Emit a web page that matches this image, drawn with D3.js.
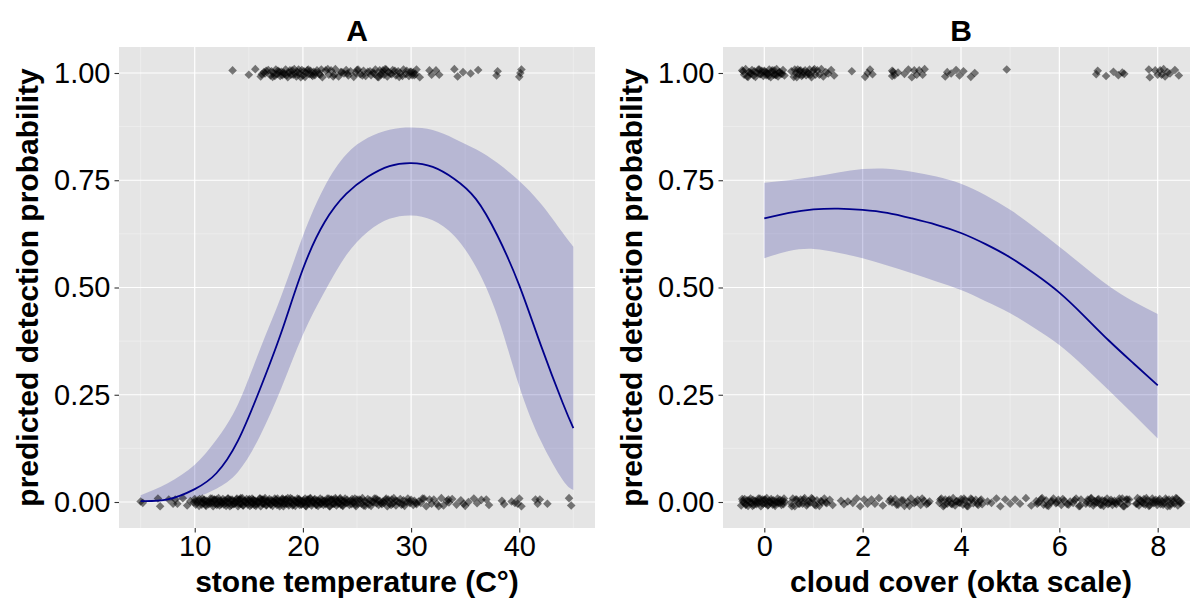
<!DOCTYPE html>
<html><head><meta charset="utf-8">
<script src="https://cdn.jsdelivr.net/npm/d3@7/dist/d3.min.js"></script>
<style>body{margin:0;background:#fff}svg{display:block}</style>
</head><body><svg id="c" width="1190" height="601"></svg>
<script>
// ---------- Panel A: stone temperature ----------
const tempX   = [5, 7.5, 10, 12, 14, 16, 18, 20, 22, 24, 26, 28, 30, 32, 34, 36, 38, 40, 42, 44, 45];
const tempFit = [0.002, 0.006, 0.030, 0.067, 0.143, 0.261, 0.395, 0.543, 0.652, 0.718, 0.758, 0.783, 0.790, 0.781, 0.753, 0.706, 0.620, 0.505, 0.365, 0.232, 0.172];
const tempHi  = [0.016, 0.044, 0.087, 0.145, 0.228, 0.354, 0.480, 0.620, 0.735, 0.810, 0.849, 0.868, 0.873, 0.867, 0.847, 0.822, 0.790, 0.748, 0.695, 0.628, 0.595];
const tempLo  = [0.0005, 0.002, 0.011, 0.031, 0.070, 0.152, 0.265, 0.390, 0.490, 0.575, 0.630, 0.660, 0.668, 0.657, 0.620, 0.548, 0.432, 0.270, 0.142, 0.052, 0.028];
const tempTicks = [10, 20, 30, 40];
const tempMinor = [5, 15, 25, 35, 45];

// observed detections (1) and non-detections (0)
const tempDetected = [13.5, 15.0, 15.6, 16.1, 16.4, 16.5, 16.8, 17.0, 17.1, 17.2, 17.3, 17.5, 17.6, 17.7, 17.9, 18.0, 18.1, 18.2, 18.3, 18.4, 18.6, 18.8, 18.9, 19.0, 19.1, 19.2, 19.4, 19.5, 19.7, 19.9, 20.0, 20.1, 20.2, 20.3, 20.5, 20.6, 20.7, 20.9, 21.0, 21.1, 21.2, 21.5, 21.7, 21.8, 22.1, 22.4, 22.6, 22.9, 23.0, 23.3, 23.5, 23.8, 24.0, 24.2, 24.4, 24.7, 24.9, 25.1, 25.3, 25.6, 25.8, 26.0, 26.3, 26.5, 26.6, 26.7, 27.0, 27.1, 27.2, 27.4, 27.5, 27.6, 27.8, 27.9, 28.1, 28.3, 28.6, 28.8, 28.9, 29.0, 29.3, 29.5, 29.6, 29.8, 30.0, 30.1, 30.2, 30.4, 30.5, 30.8, 31.7, 31.9, 32.3, 32.6, 34.0, 34.3, 34.8, 35.5, 36.2, 37.9, 38.0, 40.0, 40.1, 40.2,
  16.2, 16.6, 17.4, 17.8, 18.5, 18.7, 19.3, 19.6, 19.8, 20.4, 20.8, 21.3, 21.6, 22.3, 22.8, 23.6, 24.1, 25.0, 25.5, 26.2, 26.9, 27.3, 27.7, 28.2, 28.5, 29.2, 29.9, 30.3];
const tempMissed = [5.0, 5.2, 6.6, 6.8, 7.6, 8.0, 8.2, 8.4, 8.9, 9.3, 9.6, 9.9,
  10.0, 10.1, 10.3, 10.4, 10.6, 10.7, 10.8, 10.9,
  11.0, 11.1, 11.3, 11.4, 11.5, 11.6, 11.7, 11.8, 11.9,
  12.0, 12.1, 12.2, 12.3, 12.4, 12.5, 12.6, 12.7, 12.8, 12.9,
  13.0, 13.1, 13.2, 13.3, 13.4, 13.5, 13.6, 13.7, 13.8, 13.9,
  14.0, 14.1, 14.2, 14.2, 14.3, 14.4, 14.5, 14.6, 14.7, 14.8, 14.9,
  15.0, 15.1, 15.2, 15.3, 15.4, 15.4, 15.5, 15.6, 15.7, 15.8, 15.9,
  16.0, 16.1, 16.2, 16.3, 16.3, 16.4, 16.5, 16.6, 16.7, 16.8, 16.9,
  17.0, 17.1, 17.2, 17.3, 17.4, 17.5, 17.5, 17.6, 17.7, 17.8, 17.9,
  18.0, 18.1, 18.2, 18.2, 18.3, 18.4, 18.5, 18.6, 18.7, 18.8, 18.9,
  19.0, 19.1, 19.2, 19.3, 19.4, 19.5, 19.6, 19.6, 19.7, 19.8, 19.9,
  20.0, 20.1, 20.2, 20.3, 20.4, 20.4, 20.5, 20.6, 20.7, 20.8, 20.9,
  21.0, 21.1, 21.2, 21.3, 21.4, 21.5, 21.6, 21.7, 21.8, 21.9,
  22.0, 22.1, 22.2, 22.3, 22.4, 22.5, 22.6, 22.7, 22.8, 22.9,
  23.0, 23.1, 23.2, 23.3, 23.4, 23.5, 23.6, 23.7, 23.8, 23.9,
  24.0, 24.1, 24.3, 24.4, 24.5, 24.6, 24.7, 24.8, 24.9,
  25.0, 25.1, 25.2, 25.4, 25.5, 25.6, 25.7, 25.9,
  26.0, 26.1, 26.2, 26.3, 26.5, 26.6, 26.8, 26.9,
  27.0, 27.1, 27.3, 27.4, 27.5, 27.7, 27.8, 27.9,
  28.0, 28.2, 28.3, 28.4, 28.6, 28.7, 28.9,
  29.0, 29.1, 29.3, 29.4, 29.6, 29.7, 29.9,
  30.0, 30.2, 30.3, 30.5, 30.7, 30.9,
  31.2, 31.4, 31.7, 31.9, 32.1, 32.4, 32.8, 33.0, 33.3, 33.5, 33.8,
  34.2, 34.6, 35.0, 35.3, 35.8, 36.1, 36.5, 37.2, 38.4, 38.6, 39.3, 39.6,
  40.0, 40.2, 41.5, 41.7, 41.9, 42.6, 44.6, 44.8,
  10.05, 10.25, 10.45, 10.65, 10.85, 11.05, 11.25, 11.45, 11.65, 11.85, 12.05, 12.25, 12.45, 12.65, 12.85,
  13.05, 13.25, 13.45, 13.65, 13.85, 14.05, 14.25, 14.45, 14.65, 14.85, 15.05, 15.25, 15.45, 15.65, 15.85,
  16.05, 16.25, 16.45, 16.65, 16.85, 17.05, 17.25, 17.45, 17.65, 17.85, 18.05, 18.25, 18.45, 18.65, 18.85,
  19.05, 19.25, 19.45, 19.65, 19.85, 20.05, 20.25, 20.45, 20.65, 20.85, 21.05, 21.25, 21.45, 21.65, 21.85,
  22.05, 22.25, 22.45, 22.65, 22.85, 23.05, 23.25, 23.45, 23.65, 23.85, 24.15, 24.55, 24.85, 25.35, 25.75,
  26.45, 26.75, 27.25, 27.65, 28.15, 28.55, 29.25, 29.85, 30.45, 31.05, 32.55, 33.45, 34.85, 36.95, 39.85];

// ---------- Panel B: cloud cover ----------
const cloudX   = [0, 0.5, 1, 1.5, 2, 2.5, 3, 3.5, 4, 4.5, 5, 5.5, 6, 6.5, 7, 7.5, 8];
const cloudFit = [0.661, 0.674, 0.682, 0.684, 0.681, 0.674, 0.661, 0.646, 0.627, 0.601, 0.570, 0.532, 0.488, 0.434, 0.377, 0.324, 0.272];
const cloudHi  = [0.744, 0.750, 0.758, 0.768, 0.776, 0.777, 0.770, 0.759, 0.742, 0.715, 0.681, 0.640, 0.595, 0.549, 0.504, 0.468, 0.438];
const cloudLo  = [0.568, 0.585, 0.590, 0.581, 0.568, 0.551, 0.533, 0.514, 0.494, 0.468, 0.440, 0.405, 0.366, 0.316, 0.261, 0.205, 0.148];
const cloudTicks = [0, 2, 4, 6, 8];
const cloudMinor = [1, 3, 5, 7];

const cloudDetected = [-0.45, -0.41, -0.38, -0.35, -0.31, -0.28, -0.25, -0.22, -0.20, -0.18, -0.15, -0.12, -0.09, -0.05, -0.02, 0.01, 0.04, 0.05, 0.07, 0.10, 0.13, 0.16, 0.19, 0.20, 0.22, 0.25, 0.28, 0.31, 0.34, 0.38, 0.41,
  0.55, 0.60, 0.64, 0.68, 0.70, 0.72, 0.76, 0.80, 0.85, 0.88, 0.90, 0.92, 0.96, 1.00, 1.04, 1.08, 1.12, 1.16, 1.20, 1.25, 1.30, 1.36, 1.42,
  1.78, 2.05, 2.10, 2.15, 2.20,
  2.60, 2.60, 2.62, 2.65, 2.72, 2.85, 2.93, 3.00, 3.05, 3.10, 3.15, 3.22, 3.26,
  3.68, 3.72, 3.80, 3.90, 3.97, 4.05, 4.20, 4.28,
  4.93,
  6.75, 6.78, 6.95, 7.10, 7.20, 7.28, 7.32,
  7.82, 7.84, 7.95, 8.00, 8.05, 8.08, 8.12, 8.15, 8.20, 8.25, 8.35, 8.43,
  -0.43, -0.33, -0.27, -0.10, -0.07, 0.00, 0.09, 0.15, 0.24, 0.30, 0.36, 0.62, 0.66, 0.74, 0.78, 0.83, 0.94, 1.02];
const cloudMissed = [-0.47, -0.44, -0.42, -0.40, -0.37, -0.35, -0.33, -0.30, -0.28, -0.26, -0.23, -0.21, -0.19, -0.16, -0.14, -0.11, -0.09, -0.07, -0.04, -0.02, 0.00, 0.03, 0.05, 0.07, 0.10, 0.12, 0.14, 0.17, 0.19, 0.22, 0.24, 0.27, 0.29, 0.32, 0.35, 0.37, 0.39, 0.41,
  0.54, 0.58, 0.62, 0.66, 0.70, 0.74, 0.78, 0.82, 0.86, 0.90, 0.94, 0.98, 1.02, 1.07, 1.12, 1.17, 1.22, 1.27, 1.33, 1.39,
  1.56, 1.62, 1.70, 1.80, 1.88, 1.95, 2.03, 2.10, 2.18, 2.25, 2.33, 2.41,
  2.54, 2.60, 2.66, 2.72, 2.79, 2.85, 2.92, 2.98, 3.05, 3.12, 3.18, 3.25, 3.30, 3.36,
  3.56, 3.60, 3.64, 3.68, 3.72, 3.76, 3.80, 3.84, 3.88, 3.92, 3.96, 4.00, 4.04, 4.08, 4.12, 4.16, 4.20, 4.25, 4.30, 4.35, 4.39, 4.43,
  4.54, 4.62, 4.72, 4.80, 4.90, 5.00, 5.10, 5.20, 5.32, 5.43,
  5.53, 5.58, 5.63, 5.68, 5.73, 5.78, 5.83, 5.88, 5.93, 5.98, 6.04, 6.10, 6.16, 6.22, 6.28, 6.34, 6.40, 6.44,
  6.54, 6.58, 6.62, 6.65, 6.69, 6.72, 6.76, 6.80, 6.83, 6.87, 6.90, 6.94, 6.97, 7.01, 7.05, 7.08, 7.12, 7.16, 7.20, 7.24, 7.28, 7.32, 7.36, 7.39, 7.42,
  7.56, 7.59, 7.62, 7.66, 7.69, 7.72, 7.75, 7.79, 7.82, 7.86, 7.89, 7.92, 7.96, 7.99, 8.02, 8.06, 8.09, 8.13, 8.16, 8.20, 8.23, 8.27, 8.30, 8.34, 8.37, 8.41, 8.44, 8.48,
  -0.45, -0.38, -0.31, -0.24, -0.17, -0.12, -0.05, 0.02, 0.08, 0.15, 0.21, 0.28, 0.33, 0.40,
  0.56, 0.64, 0.72, 0.80, 0.88, 0.96, 1.05, 1.15, 1.25,
  2.57, 2.69, 2.82, 2.95, 3.08, 3.21, 3.33,
  3.58, 3.66, 3.74, 3.82, 3.90, 3.98, 4.06, 4.14, 4.22, 4.33, 4.41,
  5.55, 5.65, 5.75, 5.85, 5.95, 6.07, 6.19, 6.31, 6.42,
  6.56, 6.64, 6.71, 6.78, 6.85, 6.92, 6.99, 7.07, 7.14, 7.22, 7.30, 7.38,
  7.58, 7.64, 7.71, 7.77, 7.84, 7.91, 7.97, 8.04, 8.11, 8.18, 8.25, 8.32, 8.39, 8.46];

const yTicks = [0, 0.25, 0.5, 0.75, 1];
const yMinor = [0.125, 0.375, 0.625, 0.875];
// vertical jitter offsets (display only), cycled over points
const yJitter = [0.006, -0.004, 0.009, -0.008, 0.002, -0.001, 0.007, -0.006, 0.004, -0.009, 0.000, 0.008, -0.003, 0.005, -0.007, 0.003, -0.005, 0.001, -0.002, 0.008, -0.010, 0.006, -0.004];

const panels = [
  {title: "A", xlab: "stone temperature (C\u00B0)", xDomain: [3, 47], range: [119, 595],
   xs: tempX, fit: tempFit, lo: tempLo, hi: tempHi, ticks: tempTicks, minor: tempMinor,
   det: tempDetected, mis: tempMissed, fmt: d3.format("d")},
  {title: "B", xlab: "cloud cover (okta scale)", xDomain: [-0.84, 8.84], range: [723, 1199],
   xs: cloudX, fit: cloudFit, lo: cloudLo, hi: cloudHi, ticks: cloudTicks, minor: cloudMinor,
   det: cloudDetected, mis: cloudMissed, fmt: d3.format("d")}
];

const svg = d3.select("#c");
const pTop = 47, pBottom = 528;
const y = d3.scaleLinear().domain([-0.0606, 1.0606]).range([pBottom, pTop]);
const FONT = "'Liberation Sans', Arial, sans-serif";

panels.forEach((p, pi) => {
  const x = d3.scaleLinear().domain(p.xDomain).range(p.range);
  const g = svg.append("g");
  const clipId = "clip" + pi;
  svg.append("clipPath").attr("id", clipId).append("rect")
    .attr("x", p.range[0]).attr("y", pTop).attr("width", p.range[1] - p.range[0]).attr("height", pBottom - pTop);
  const pg = g.append("g").attr("clip-path", `url(#${clipId})`);
  pg.append("rect").attr("x", p.range[0]).attr("y", pTop)
    .attr("width", p.range[1] - p.range[0]).attr("height", pBottom - pTop).attr("fill", "#e5e5e5");
  // minor grid
  pg.selectAll(".mx").data(p.minor).join("line")
    .attr("x1", d => x(d)).attr("x2", d => x(d)).attr("y1", pTop).attr("y2", pBottom)
    .attr("stroke", "#f2f2f2").attr("stroke-width", 0.6);
  pg.selectAll(".my").data(yMinor).join("line")
    .attr("y1", d => y(d)).attr("y2", d => y(d)).attr("x1", p.range[0]).attr("x2", p.range[1])
    .attr("stroke", "#f2f2f2").attr("stroke-width", 0.6);
  // major grid
  pg.selectAll(".Mx").data(p.ticks).join("line")
    .attr("x1", d => x(d)).attr("x2", d => x(d)).attr("y1", pTop).attr("y2", pBottom)
    .attr("stroke", "#fff").attr("stroke-width", 1.2);
  pg.selectAll(".My").data(yTicks).join("line")
    .attr("y1", d => y(d)).attr("y2", d => y(d)).attr("x1", p.range[0]).attr("x2", p.range[1])
    .attr("stroke", "#fff").attr("stroke-width", 1.2);

  const rows = p.xs.map((v, i) => ({x: v, fit: p.fit[i], lo: p.lo[i], hi: p.hi[i]}));
  pg.append("path").datum(rows)
    .attr("d", d3.area().x(d => x(d.x)).y0(d => y(d.lo)).y1(d => y(d.hi)).curve(d3.curveNatural))
    .attr("fill", "#00008b").attr("fill-opacity", 0.2);

  const pts = p.det.map(v => ({x: v, y: 1})).concat(p.mis.map(v => ({x: v, y: 0})));
  pts.forEach((d, i) => { d.yj = d.y + yJitter[i % yJitter.length]; });
  const r = 4.3;
  pg.selectAll(".pt").data(pts).join("path")
    .attr("d", `M0,${-r}L${r},0L0,${r}L${-r},0Z`)
    .attr("transform", d => `translate(${x(d.x)},${y(d.yj)})`)
    .attr("fill", "#000").attr("fill-opacity", 0.5);

  pg.append("path").datum(rows)
    .attr("d", d3.line().x(d => x(d.x)).y(d => y(d.fit)).curve(d3.curveNatural))
    .attr("fill", "none").attr("stroke", "#00008b").attr("stroke-width", 1.8);

  // axes
  const xa = g.append("g").attr("transform", `translate(0,${pBottom})`)
    .call(d3.axisBottom(x).tickValues(p.ticks).tickFormat(p.fmt).tickSize(4.5).tickPadding(3));
  const ya = g.append("g").attr("transform", `translate(${p.range[0]},0)`)
    .call(d3.axisLeft(y).tickValues(yTicks).tickFormat(d3.format(".2f")).tickSize(4.5).tickPadding(4));
  [xa, ya].forEach(a => {
    a.select(".domain").remove();
    a.selectAll(".tick line").attr("stroke", "#333").attr("stroke-width", 1.1);
    a.selectAll("text").attr("fill", "#000").style("font-family", FONT).style("font-size", "29px");
  });
  xa.selectAll("text").attr("dy", "0.71em");

  const cx = (p.range[0] + p.range[1]) / 2;
  g.append("text").attr("x", cx).attr("y", 41).attr("text-anchor", "middle")
    .style("font-family", FONT).style("font-size", "30px").style("font-weight", "bold").text(p.title);
  g.append("text").attr("x", cx).attr("y", 592).attr("text-anchor", "middle")
    .style("font-family", FONT).style("font-size", "30px").style("font-weight", "bold").text(p.xlab);
  g.append("text").attr("transform", `translate(${p.range[0] - 81},${(pTop + pBottom) / 2}) rotate(-90)`)
    .attr("text-anchor", "middle")
    .style("font-family", FONT).style("font-size", "30px").style("font-weight", "bold")
    .text("predicted detection probability");
});
</script></body></html>
